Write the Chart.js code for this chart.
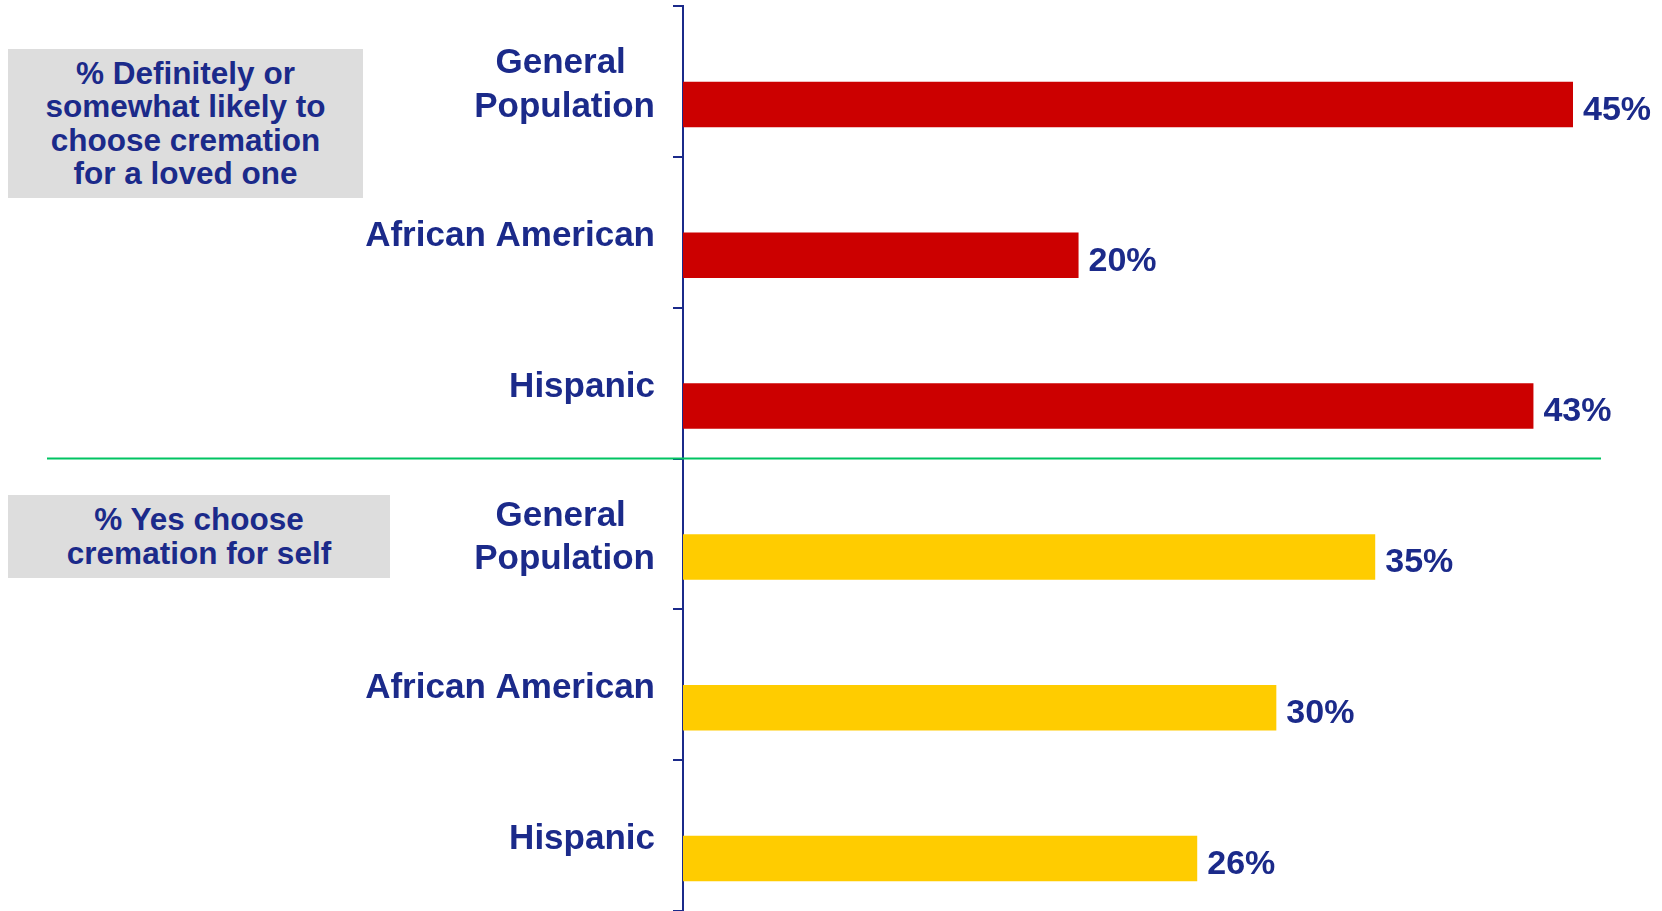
<!DOCTYPE html>
<html>
<head>
<meta charset="utf-8">
<script src="https://cdn.jsdelivr.net/npm/chart.js@4.4.1/dist/chart.umd.min.js"></script>
<style>
  body { margin: 0; background: #fff; overflow: hidden; }
  #wrap { position: relative; width: 1662px; height: 911px; }
  .box {
    position: absolute;
    background: #dddddd;
    color: #1b2a8a;
    font-family: 'Liberation Sans', Arial, sans-serif;
    font-weight: bold;
    font-size: 31.5px;
    line-height: 33.4px;
    text-align: center;
    display: flex;
    align-items: center;
    justify-content: center;
  }
  #box1 { left: 8px; top: 49px; width: 355px; height: 149px; }
  #box2 { left: 8px; top: 495px; width: 382px; height: 83px; }
</style>
</head>
<body>
<div id="wrap">
  <canvas id="myChart"></canvas>
  <div class="box" id="box1"></div>
  <div class="box" id="box2"></div>
</div>
<script>
const ctx = document.getElementById('myChart');

// groups and values
const categories = [['General', 'Population'], 'African American', 'Hispanic',
                    ['General', 'Population'], 'African American', 'Hispanic'];
const lovedOne = [45, 20, 43];
const forSelf = [35, 30, 26];
const groupTitles = [
    ['% Definitely or', 'somewhat likely to', 'choose cremation', 'for a loved one'],
    ['% Yes choose', 'cremation for self']
];

const NAVY = '#1b2a8a';
const FONT = "'Liberation Sans', Arial, sans-serif";

document.getElementById('box1').innerHTML = groupTitles[0].join('<br>');
document.getElementById('box2').innerHTML = groupTitles[1].join('<br>');

var arrValues = lovedOne.concat(forSelf);
var arrColors = [];
lovedOne.forEach(() => arrColors.push('#cc0000'));
forSelf.forEach(() => arrColors.push('#ffcc00'));

// pad the shorter line of a two-line label so it sits centred over the longer one
var measure = document.createElement('canvas').getContext('2d');
measure.font = 'bold 35px ' + FONT;
function centerLines(label) {
    if (!Array.isArray(label)) return label;
    var widest = Math.max(...label.map(s => measure.measureText(s).width));
    var space = measure.measureText(' ').width;
    return label.map(s => {
        var n = Math.round((widest - measure.measureText(s).width) / 2 / space);
        return s + ' '.repeat(n);
    });
}

// value labels at the end of each bar
const valueLabels = {
    id: 'valueLabels',
    afterDatasetsDraw(chart) {
        var c = chart.ctx;
        var meta = chart.getDatasetMeta(1);
        c.save();
        c.font = 'bold 34px ' + FONT;
        c.fillStyle = NAVY;
        c.textAlign = 'left';
        c.textBaseline = 'middle';
        meta.data.forEach((bar, i) => {
            c.fillText(arrValues[i] + '%', bar.x + 10, bar.y + 6);
        });
        c.restore();
    }
};

// green rule between the two groups
const groupDivider = {
    id: 'groupDivider',
    afterDraw(chart) {
        var y = chart.scales.y;
        var py = (y.getPixelForTick(2) + y.getPixelForTick(3)) / 2;
        var c = chart.ctx;
        c.save();
        c.strokeStyle = '#00c462';
        c.lineWidth = 2;
        c.beginPath();
        c.moveTo(47, py);
        c.lineTo(1601, py);
        c.stroke();
        c.restore();
    }
};

new Chart(ctx, {
    type: 'bar',
    data: {
        labels: categories,
        datasets: [
            // empty slot so each bar sits in the lower half of its row
            { data: categories.map(() => null), backgroundColor: 'rgba(0,0,0,0)' },
            { data: arrValues, backgroundColor: arrColors, borderWidth: 0 }
        ]
    },
    options: {
        indexAxis: 'y',
        responsive: true,
        maintainAspectRatio: false,
        animation: false,
        categoryPercentage: 0.61,
        barPercentage: 0.99,
        layout: { padding: { top: 6, left: 0, right: 0, bottom: 0 } },
        plugins: {
            legend: { display: false },
            tooltip: { enabled: false }
        },
        scales: {
            x: {
                display: false,
                min: 0,
                max: 49.5
            },
            y: {
                offset: true,
                grid: {
                    offset: true,
                    drawOnChartArea: false,
                    drawTicks: true,
                    tickLength: 10,
                    color: NAVY,
                    lineWidth: 2
                },
                border: { color: NAVY, width: 2 },
                ticks: {
                    padding: 18,
                    labelOffset: 4,
                    crossAlign: 'near',
                    color: NAVY,
                    font: { family: FONT, size: 35, weight: 'bold', lineHeight: 1.25 },
                    callback: function(value) {
                        return centerLines(this.getLabelForValue(value));
                    }
                },
                afterFit: function(scale) {
                    // labels sit inside their rows, no extra room needed above/below
                    scale.width = 683;
                    scale.paddingTop = 0;
                    scale.paddingBottom = 0;
                }
            }
        }
    },
    plugins: [valueLabels, groupDivider]
});
</script>
</body>
</html>
